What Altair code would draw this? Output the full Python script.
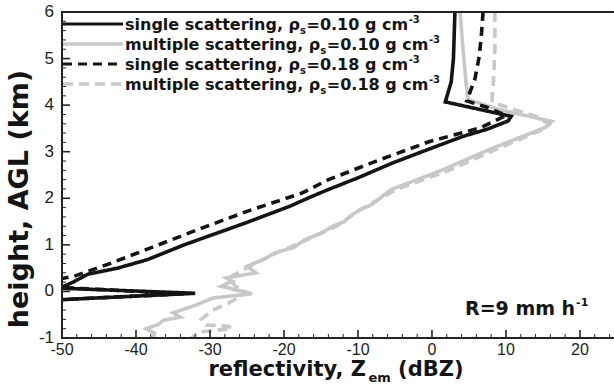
import altair as alt
import pandas as pd

# ---------------- data ----------------
series_names = [
    "multiple scattering, rho_s=0.10",
    "multiple scattering, rho_s=0.18",
    "single scattering, rho_s=0.10",
    "single scattering, rho_s=0.18",
]

# single scattering, rho_s = 0.10 (black solid)
h_ss10 = [6.0, 5.5, 5.0, 4.5, 4.07, 3.76, 3.66, 3.48, 3.33, 3.05, 2.76, 2.44, 2.15, 2.0, 1.83,
          1.47, 1.0, 0.68, 0.5, 0.37, 0.2, 0.07, -0.04, -0.18, -0.3]
v_ss10 = [3.1, 3.0, 2.9, 2.6, 1.8, 10.7, 10.3, 7.4, 4.2, -0.5, -5.3, -10.0, -14.6, -16.8, -19.2,
          -25.2, -33.5, -38.5, -42.5, -46.5, -48.5, -50.3, -32.0, -50.5, -56.0]

# single scattering, rho_s = 0.18 (black dashed)
h_ss18 = [6.0, 5.55, 5.06, 4.56, 4.09, 3.95, 3.78, 3.51, 3.22, 2.83, 2.4, 2.11, 1.72, 1.33, 0.93,
          0.6, 0.32, 0.22, 0.1, -0.05, -0.19, -0.3]
v_ss18 = [6.9, 6.7, 6.4, 5.8, 4.7, 7.5, 10.0, 6.5, -0.3, -7.0, -14.0, -17.6, -25.0, -31.6, -38.1,
          -43.5, -48.5, -52.0, -52.0, -33.5, -52.0, -56.0]

# multiple scattering, rho_s = 0.10 (gray solid)
h_ms10 = [6.0, 5.2, 4.48, 4.12, 3.9, 3.65, 3.52, 3.3, 3.05, 2.58, 2.19, 1.86, 1.75, 1.6, 1.5,
          1.4, 1.25, 1.11, 0.95, 0.83, 0.7, 0.54, 0.4, 0.29, 0.22, 0.11, -0.05, -0.14, -0.3,
          -0.46, -0.55, -0.62, -0.71, -0.8, -0.9, -1.0]
v_ms10 = [3.8, 4.2, 4.6, 4.9, 9.2, 16.2, 15.3, 11.8, 7.8, 1.0, -5.5, -8.2, -9.8, -11.2, -11.8,
          -13.4, -15.0, -17.2, -18.6, -21.2, -22.6, -25.0, -23.8, -27.8, -27.0, -28.5, -24.3,
          -29.6, -32.0, -35.0, -34.0, -36.3, -37.0, -38.6, -37.5, -37.7]

# multiple scattering, rho_s = 0.18 (gray dashed)
h_ms18 = [6.0, 5.2, 4.5, 4.12, 4.05, 3.73, 3.58, 3.48, 3.05, 2.58, 2.19, 1.79, 1.4, 1.11, 0.83,
          0.54, 0.29, 0.18, 0.1, -0.03, -0.25, -0.4, -0.6, -0.72, -0.75, -0.8, -0.87, -1.0]
v_ms18 = [8.5, 8.5, 8.3, 8.1, 8.3, 14.6, 15.8, 15.0, 8.7, 2.0, -4.8, -9.3, -12.9, -16.9, -21.0,
          -24.6, -27.5, -26.9, -26.5, -25.0, -27.5, -29.6, -31.2, -30.5, -27.5, -27.0, -31.5,
          -32.5]

x_major = [-50, -40, -30, -20, -10, 0, 10, 20]
x_minor = [v for v in range(-48, 25, 2) if v % 10 != 0]
y_major = [-1, 0, 1, 2, 3, 4, 5, 6]
y_minor = [round(-1 + 0.2 * k, 1) for k in range(36) if k % 5 != 0]
x_labels = [str(v) for v in x_major]
y_labels = [str(v) for v in y_major]

legend_rows = [
    ("single scattering, \u03c1", "=0.10 g cm"),
    ("multiple scattering, \u03c1", "=0.10 g cm"),
    ("single scattering, \u03c1", "=0.18 g cm"),
    ("multiple scattering, \u03c1", "=0.18 g cm"),
]

# ---------------- build table ----------------
recs = []
for name, hs, vs in [
    (series_names[0], h_ms10, v_ms10),
    (series_names[1], h_ms18, v_ms18),
    (series_names[2], h_ss10, v_ss10),
    (series_names[3], h_ss18, v_ss18),
]:
    for i, (h, v) in enumerate(zip(hs, vs)):
        recs.append({"series": name, "h": h, "v": v, "i": i})
df = pd.DataFrame(recs)
gray_df = df[df.series.str.startswith("multiple")]
black_df = df[df.series.str.startswith("single")]

# ---------------- styling ----------------
W, H = 552, 326
L, T = 62, 12
AX = "#222222"
BLACK = "#141414"
GRAY = "#c8c8c8"
BOLD = "DejaVu Sans"
REG = "Liberation Sans"

xscale = alt.Scale(domain=[-50, 24.6], nice=False, zero=False)
yscale = alt.Scale(domain=[-1, 6], nice=False, zero=False)

color_scale = alt.Scale(domain=series_names, range=[GRAY, GRAY, BLACK, BLACK])
dash_scale = alt.Scale(domain=series_names, range=[[1, 0], [10, 6], [1, 0], [9, 6]])
width_scale = alt.Scale(domain=series_names, range=[3.6, 3.6, 2.8, 2.8])


def line_layer(data):
    return alt.Chart(data).mark_line(clip=True, strokeJoin="miter").encode(
        x=alt.X("v:Q", scale=xscale, axis=None),
        y=alt.Y("h:Q", scale=yscale, axis=None),
        detail="series:N",
        order="i:Q",
        color=alt.Color("series:N", scale=color_scale, legend=None),
        strokeDash=alt.StrokeDash("series:N", scale=dash_scale, legend=None),
        strokeWidth=alt.StrokeWidth("series:N", scale=width_scale, legend=None),
    )


def xticks(vals, size, width):
    return alt.Chart(pd.DataFrame({"v": vals})).mark_rule(color=AX, strokeWidth=width).encode(
        x=alt.X("v:Q", scale=xscale, axis=None), y=alt.value(H), y2=alt.value(H - size))


def yticks(vals, size, width):
    return alt.Chart(pd.DataFrame({"h": vals})).mark_rule(color=AX, strokeWidth=width).encode(
        y=alt.Y("h:Q", scale=yscale, axis=None), x=alt.value(0), x2=alt.value(size))


x_label_layer = alt.Chart(pd.DataFrame({"v": x_major, "lab": x_labels})).mark_text(
    font=REG, fontSize=16, color=AX, align="center", baseline="top").encode(
    x=alt.X("v:Q", scale=xscale, axis=None), y=alt.value(H + 4), text="lab:N")

y_label_layer = alt.Chart(pd.DataFrame({"h": y_major, "lab": y_labels})).mark_text(
    font=REG, fontSize=17, color=AX, align="right", baseline="middle").encode(
    y=alt.Y("h:Q", scale=yscale, axis=None), x=alt.value(-8), text="lab:N")

one = alt.Data(values=[{"a": 1}])

# DejaVu Sans Bold advance widths (em units)
WB = {' ': 0.348, ',': 0.380, '-': 0.415, '.': 0.380, '=': 0.838, '(': 0.457, ')': 0.457,
      'A': 0.774, 'B': 0.762, 'G': 0.821, 'L': 0.637, 'R': 0.770, 'Z': 0.725,
      'a': 0.675, 'c': 0.593, 'd': 0.716, 'e': 0.678, 'f': 0.435, 'g': 0.716, 'h': 0.712,
      'i': 0.343, 'k': 0.665, 'l': 0.343, 'm': 1.042, 'n': 0.712, 'p': 0.716, 'r': 0.493,
      's': 0.595, 't': 0.478, 'u': 0.712, 'v': 0.652, 'y': 0.652, '\u03c1': 0.716}
for d in "0123456789":
    WB[d] = 0.696


def tw(s, size):
    return sum(WB.get(c, 0.65) for c in s) * size


def txt(t, x, y, size, align="left", angle=0):
    kw = dict(text=t, align=align, baseline="alphabetic", fontSize=size, font=BOLD,
              fontWeight="bold", color=BLACK)
    if angle:
        kw["angle"] = angle
    return alt.Chart(one).mark_text(**kw).encode(x=alt.value(x - L), y=alt.value(y - T))


def sample(y, color, width, dash):
    kw = dict(color=color, strokeWidth=width)
    if dash:
        kw["strokeDash"] = dash
    return alt.Chart(one).mark_rule(**kw).encode(
        x=alt.value(63 - L), x2=alt.value(123 - L), y=alt.value(y - T))


def frame_h(y):
    return alt.Chart(one).mark_rule(color=AX, strokeWidth=2).encode(
        x=alt.value(-1), x2=alt.value(W), y=alt.value(y))


frame_left = alt.Chart(one).mark_rule(color=AX, strokeWidth=2).encode(
    x=alt.value(0), y=alt.value(-1), y2=alt.value(H + 1))

layers = [
    line_layer(gray_df),
    line_layer(black_df),
    xticks(x_major, 8, 1.6),
    xticks(x_minor, 4, 1.0),
    yticks(y_major, 8, 1.6),
    yticks(y_minor, 4, 1.0),
    x_label_layer,
    y_label_layer,
    frame_h(0),
    frame_h(H),
    frame_left,
]

# legend
styles = [(BLACK, 2.8, None), (GRAY, 3.6, None), (BLACK, 2.8, [9, 6]), (GRAY, 3.6, [10, 6])]
for k, ((p1, p3), (c, wdt, dsh)) in enumerate(zip(legend_rows, styles)):
    base = 29.5 + 20 * k
    layers.append(sample(base - 5.5, c, wdt, dsh))
    x0 = 125
    layers.append(txt(p1, x0, base, 16))
    x1 = x0 + tw(p1, 16)
    layers.append(txt("s", x1, base + 4, 10))
    x2 = x1 + tw("s", 10) + 0.5
    layers.append(txt(p3, x2, base, 16))
    x3 = x2 + tw(p3, 16) + 0.5
    layers.append(txt("-3", x3, base - 7, 10))

# rain-rate annotation
layers.append(txt("R=9 mm h", 465, 315, 19))
layers.append(txt("-1", 465 + tw("R=9 mm h", 19) + 1, 306, 11))

# x title
xa, xb, xc = "reflectivity, Z", "em", "(dBZ)"
gap = tw(" ", 21)
tot = tw(xa, 21) + tw(xb, 13) + gap + tw(xc, 21)
sx = 336 - tot / 2
layers.append(txt(xa, sx, 376, 21))
layers.append(txt(xb, sx + tw(xa, 21), 382, 13))
layers.append(txt(xc, sx + tw(xa, 21) + tw(xb, 13) + gap, 376, 21))

# y title
layers.append(txt("height, AGL (km)", 28, 199, 27, align="center", angle=270))

chart = alt.layer(*layers).properties(
    width=W, height=H, autosize="none",
    padding={"left": L, "top": T, "right": 0, "bottom": 387 - T - H},
).configure_view(stroke=None)

chart.save("out.html", embed_options={"renderer": "svg", "actions": False})
